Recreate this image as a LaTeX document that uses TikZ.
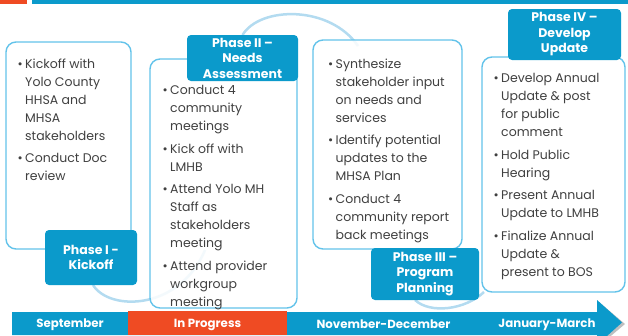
\documentclass[tikz,border=0pt]{standalone}
\usepackage{fontspec}
\setmainfont{Poppins}
\usetikzlibrary{positioning}

\definecolor{phaseblue}{HTML}{0B9ACB}
\definecolor{edgeblue}{HTML}{63C3EA}
\definecolor{arcblue}{HTML}{B3DBF0}
\definecolor{progorange}{HTML}{EF4B23}
\definecolor{bodygray}{HTML}{404040}

\newcommand{\bul}{\makebox[7.5pt][l]{•}}
\newcommand{\ind}{\hspace*{7.5pt}}

\tikzset{
  stagebox/.style={draw=edgeblue, line width=1.4pt, rounded corners=10pt,
    fill=white, fill opacity=0.85, inner sep=0pt},
  phasetag/.style={fill=phaseblue, rounded corners=4pt, text=white,
    font=\bfseries\fontsize{12.5}{15.5}\selectfont, align=center, inner sep=0pt},
  bullets/.style={anchor=north west, inner sep=0pt, align=left, text=bodygray,
    font=\fontsize{12.5}{18}\selectfont},
  monthlabel/.style={text=white, font=\bfseries\fontsize{11.8}{14}\selectfont},
  linkarc/.style={draw=arcblue, line width=2.5pt}
}

\begin{document}
\begin{tikzpicture}[x=1pt,y=-1pt]
  \useasboundingbox (0,0) rectangle (628,335);

  % top rule
  \fill[progorange] (0,0) rectangle (27,3.5);
  \fill[phaseblue] (32,0) rectangle (628,3.5);

  % connecting arcs (behind the boxes)
  \coordinate (arcA) at (358,46);
  \coordinate (arcB) at (205,250);
  \coordinate (arcC) at (484,292);
  \draw[linkarc] (242.5,35) .. controls (260,6) and (330,5) .. (arcA);
  \draw[linkarc] (93,285) .. controls (110,312) and (180,310) .. (arcB);
  \draw[linkarc] (415,300) .. controls (430,314) and (465,310) .. (arcC);

  % stage boxes
  \node[stagebox, minimum width=125pt, minimum height=207pt] (b1) at (68.5,145.5) {};
  \node[stagebox, minimum width=147pt, minimum height=249pt] (b2) at (223.5,183.5) {};
  \node[stagebox, minimum width=149pt, minimum height=209pt] (b3) at (387.5,144.5) {};
  \node[stagebox, minimum width=143pt, minimum height=235pt] (b4) at (553.5,174.5) {};

  % box texts
  \node[bullets] (t1) at (17.5,58.5) {\bul Kickoff with\\ \ind Yolo County\\ \ind HHSA and\\
    \ind MHSA\\ \ind stakeholders\\[4.5pt] \bul Conduct Doc\\ \ind review};
  \node[bullets] (t2) at (162.5,85.5) {\bul Conduct 4\\ \ind community\\ \ind meetings\\[4.5pt]
    \bul Kick off with\\ \ind LMHB\\[4.5pt]
    \bul Attend Yolo MH\\ \ind Staff as\\ \ind stakeholders\\ \ind meeting\\[4.5pt]
    \bul Attend provider\\ \ind workgroup\\ \ind meeting};
  \node[bullets] (t3) at (328,58.5) {\bul Synthesize\\ \ind stakeholder input\\ \ind on needs and\\
    \ind services\\[4.5pt] \bul Identify potential\\ \ind updates to the\\ \ind MHSA Plan\\[4.5pt]
    \bul Conduct 4\\ \ind community report\\ \ind back meetings};
  \node[bullets] (t4) at (493.5,73.5) {\bul Develop Annual\\ \ind Update \& post\\ \ind for public\\
    \ind comment\\[4.5pt] \bul Hold Public\\ \ind Hearing\\[4.5pt]
    \bul Present Annual\\ \ind Update to LMHB\\[4.5pt]
    \bul Finalize Annual\\ \ind Update \&\\ \ind present to BOS};

  % phase tags
  \node[phasetag, minimum width=92pt, minimum height=55pt] (p1) at (91,257.5) {Phase I -\\Kickoff};
  \node[phasetag, minimum width=111pt, minimum height=46pt] (p2) at (242.5,58) {Phase II –\\Needs\\Assessment};
  \node[phasetag, minimum width=108pt, minimum height=52pt] (p3) at (425,274) {Phase III –\\Program\\Planning};
  \node[phasetag, minimum width=113pt, minimum height=51pt] (p4) at (564.5,34.5) {Phase IV –\\Develop\\Update};

  % timeline arrow
  \fill[black!25] (599,302) -- (625,324) -- (599,346) -- cycle;
  \fill[phaseblue] (12,312) -- (597,312) -- (597,300) -- (622,322.5)
    -- (597,345) -- (597,335) -- (12,335) -- cycle;
  \fill[progorange] (128,311) rectangle (287,335);
  \node[monthlabel] (m1) at (70,324.5) {September};
  \node[monthlabel] (m2) at (207.5,324.5) {In Progress};
  \node[monthlabel] (m3) at (383.5,324.5) {November-December};
  \node[monthlabel] (m4) at (547,324.5) {January-March};
\end{tikzpicture}
\end{document}
